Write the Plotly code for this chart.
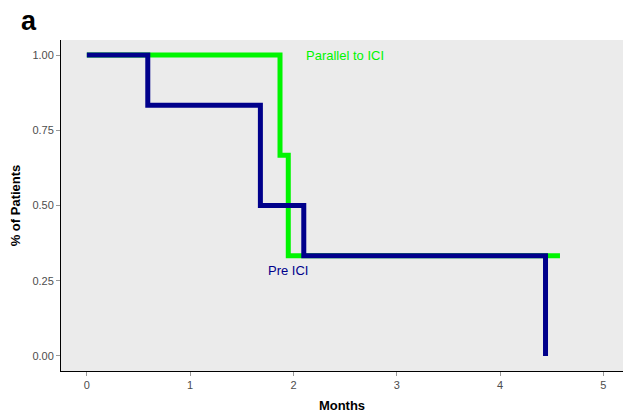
import plotly.graph_objects as go

# Kaplan-Meier step data
parallel_t = [0, 1.87, 1.95, 4.58]
parallel_s = [1.0, 0.667, 0.333, 0.333]
pre_t = [0, 0.59, 1.68, 2.10, 4.44]
pre_s = [1.0, 0.833, 0.5, 0.333, 0.0]

x_ticks = [0, 1, 2, 3, 4, 5]
y_ticks = [0, 0.25, 0.5, 0.75, 1.0]
y_tick_text = ["0.00", "0.25", "0.50", "0.75", "1.00"]

GREEN = "#00F500"
NAVY = "#00008B"

fig = go.Figure()
fig.add_trace(go.Scatter(x=parallel_t, y=parallel_s, mode="lines",
                         line=dict(color=GREEN, width=5, shape="hv"),
                         name="Parallel to ICI", showlegend=False))
fig.add_trace(go.Scatter(x=pre_t, y=pre_s, mode="lines",
                         line=dict(color=NAVY, width=5, shape="hv"),
                         name="Pre ICI", showlegend=False))

fig.add_annotation(x=2.5, y=1.0, text="Parallel to ICI", showarrow=False,
                   font=dict(color=GREEN, size=13, family="Arial"))
fig.add_annotation(x=1.95, y=0.285, text="Pre ICI", showarrow=False,
                   font=dict(color=NAVY, size=13, family="Arial"))
fig.add_annotation(x=-0.075, y=1.058, xref="paper", yref="paper", xanchor="left", yanchor="middle",
                   text="<b>a</b>", showarrow=False,
                   font=dict(color="black", size=27, family="Arial"))

fig.update_layout(
    width=623, height=416,
    margin=dict(l=61, r=0, t=40, b=45, autoexpand=False),
    paper_bgcolor="white", plot_bgcolor="#EBEBEB",
    font=dict(family="Arial", color="#4D4D4D", size=11),
    xaxis=dict(range=[-0.25, 5.19], tickvals=x_ticks, showgrid=False, zeroline=False,
               showline=True, linecolor="black", linewidth=1,
               ticks="outside", ticklen=4, tickcolor="#999999",
               title=dict(text="<b>Months</b>", font=dict(size=13, color="black"), standoff=10)),
    yaxis=dict(range=[-0.05, 1.05], tickvals=y_ticks, ticktext=y_tick_text, showgrid=False,
               zeroline=False, showline=True, linecolor="black", linewidth=1,
               ticks="outside", ticklen=4, tickcolor="#999999",
               title=dict(text="<b>% of Patients</b>", font=dict(size=13, color="black"), standoff=8)),
)

fig.write_html(
    "out.html",
    config={"displayModeBar": False},
    post_script="document.body.style.margin='0';document.body.style.overflow='hidden';"
                "document.documentElement.style.overflow='hidden';",
)
